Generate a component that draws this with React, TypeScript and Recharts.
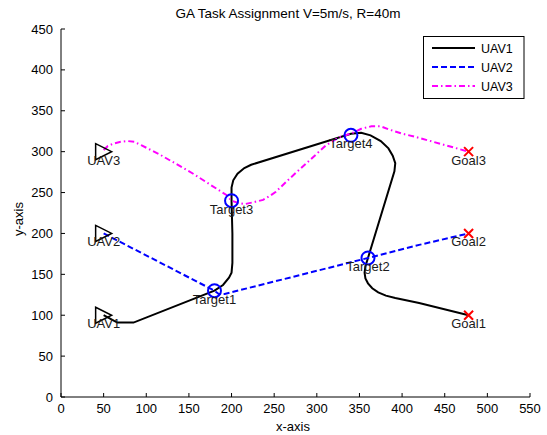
import React from "react";
import { ComposedChart, Line, Scatter, XAxis, YAxis } from "recharts";

// flight paths
const uav1X = [50, 57, 66, 85, 180, 190, 197, 200, 201, 201, 200, 200, 202, 207, 215, 223, 340, 352, 363, 375, 384, 389, 392, 391, 360, 357, 356, 357, 360, 365, 372, 381, 392, 420, 478];
const uav1Y = [100, 96, 91, 91, 130, 137, 146, 152, 164, 200, 240, 256, 265, 273, 280, 284, 322, 323, 320, 313, 304, 295, 286, 276, 170, 160, 152, 145, 139, 133, 128, 124, 121, 115, 100];

const uav2X = [50, 180, 185, 192, 360, 420, 478];
const uav2Y = [200, 130, 126, 126, 170, 186, 200];

const uav3X = [50, 55, 62, 70, 78, 86, 94, 115, 155, 194, 200, 209, 216, 225, 237, 245, 252, 268, 288, 311, 327, 340, 352, 364, 375, 385, 400, 416, 478];
const uav3Y = [302, 307, 310, 312, 313, 312, 308, 297, 273, 247, 240, 237, 236, 238, 241, 246, 251, 267, 286, 308, 318, 322, 328, 331, 331, 327, 322, 318, 300];

// markers
const startNames = ["UAV1", "UAV2", "UAV3"];
const startX = [50, 50, 50];
const startY = [100, 200, 300];

const targetNames = ["Target1", "Target2", "Target3", "Target4"];
const targetX = [180, 360, 200, 340];
const targetY = [130, 170, 240, 320];

const goalNames = ["Goal1", "Goal2", "Goal3"];
const goalX = [478, 478, 478];
const goalY = [100, 200, 300];

const xTicks = [0, 50, 100, 150, 200, 250, 300, 350, 400, 450, 500, 550];
const yTicks = [0, 50, 100, 150, 200, 250, 300, 350, 400, 450];

const FONT = "'Liberation Sans', Arial, Helvetica, sans-serif";

const toPoints = (xs: number[], ys: number[]) => xs.map((x, i) => ({ x, y: ys[i] }));
const toMarkers = (names: string[], xs: number[], ys: number[]) =>
  names.map((name, i) => ({ x: xs[i], y: ys[i], name }));

const uav1 = toPoints(uav1X, uav1Y);
const uav2 = toPoints(uav2X, uav2Y);
const uav3 = toPoints(uav3X, uav3Y);
const starts = toMarkers(startNames, startX, startY);
const targets = toMarkers(targetNames, targetX, targetY);
const goals = toMarkers(goalNames, goalX, goalY);

const MarkerLabel = ({ cx, cy, text }: { cx: number; cy: number; text: string }) => (
  <text x={cx} y={cy + 13} textAnchor="middle" fontSize={13} fontFamily={FONT} fill="#1a1a1a">
    {text}
  </text>
);

const StartShape = (props: any) => {
  const { cx, cy, payload } = props;
  return (
    <g>
      <path
        d={`M${cx - 8},${cy - 8} L${cx + 8},${cy} L${cx - 8},${cy + 8} Z`}
        fill="none"
        stroke="#000"
        strokeWidth={1.5}
      />
      <MarkerLabel cx={cx} cy={cy} text={payload.name} />
    </g>
  );
};

const TargetShape = (props: any) => {
  const { cx, cy, payload } = props;
  return (
    <g>
      <circle cx={cx} cy={cy} r={6.5} fill="none" stroke="#0000ff" strokeWidth={2} />
      <MarkerLabel cx={cx} cy={cy} text={payload.name} />
    </g>
  );
};

const GoalShape = (props: any) => {
  const { cx, cy, payload } = props;
  const s = 4.5;
  return (
    <g>
      <path
        d={`M${cx - s},${cy - s} L${cx + s},${cy + s} M${cx - s},${cy + s} L${cx + s},${cy - s}`}
        stroke="#ff0000"
        strokeWidth={2}
      />
      <MarkerLabel cx={cx} cy={cy} text={payload.name} />
    </g>
  );
};

const XTick = (props: any) => {
  const { x, y, payload } = props;
  return (
    <g>
      <line x1={x} x2={x} y1={y} y2={y - 4} stroke="#000" />
      <text x={x} y={y + 16} textAnchor="middle" fontSize={13} fontFamily={FONT} fill="#000">
        {payload.value}
      </text>
    </g>
  );
};

const YTick = (props: any) => {
  const { x, y, payload } = props;
  return (
    <g>
      <line x1={x} x2={x + 4} y1={y} y2={y} stroke="#000" />
      <text x={x - 8} y={y + 4.5} textAnchor="end" fontSize={13} fontFamily={FONT} fill="#000">
        {payload.value}
      </text>
    </g>
  );
};

const legendItems = [
  { name: "UAV1", color: "#000000", dash: undefined },
  { name: "UAV2", color: "#0000ff", dash: "6 3" },
  { name: "UAV3", color: "#ff00ff", dash: "6 3 1.5 3" },
];

export default function App() {
  return (
    <div style={{ position: "absolute", left: 0, top: 0, width: 547, height: 435, background: "#fff" }}>
      <ComposedChart width={547} height={435} margin={{ top: 29, right: 17, bottom: 0, left: 0 }}>
        <XAxis
          type="number"
          dataKey="x"
          domain={[0, 550]}
          ticks={xTicks}
          height={38}
          tickSize={0}
          tickMargin={0}
          tickLine={false}
          tick={<XTick />}
          axisLine={{ stroke: "#000" }}
          allowDataOverflow
        />
        <YAxis
          type="number"
          dataKey="y"
          domain={[0, 450]}
          ticks={yTicks}
          width={61}
          tickSize={0}
          tickMargin={0}
          tickLine={false}
          tick={<YTick />}
          axisLine={{ stroke: "#000" }}
          allowDataOverflow
        />
        <Line data={uav1} dataKey="y" type="linear" stroke="#000" strokeWidth={2} dot={false} isAnimationActive={false} />
        <Line data={uav2} dataKey="y" type="linear" stroke="#0000ff" strokeWidth={2} strokeDasharray="6 3" dot={false} isAnimationActive={false} />
        <Line data={uav3} dataKey="y" type="linear" stroke="#ff00ff" strokeWidth={2} strokeDasharray="6 3 1.5 3" dot={false} isAnimationActive={false} />
        <Scatter data={starts} dataKey="y" shape={StartShape} isAnimationActive={false} />
        <Scatter data={targets} dataKey="y" shape={TargetShape} isAnimationActive={false} />
        <Scatter data={goals} dataKey="y" shape={GoalShape} isAnimationActive={false} />
      </ComposedChart>
      <svg
        width={547}
        height={435}
        style={{ position: "absolute", left: 0, top: 0, pointerEvents: "none" }}
      >
        <text x={288} y={18} textAnchor="middle" fontSize={13.5} fontFamily={FONT} fill="#000">
          GA Task Assignment V=5m/s, R=40m
        </text>
        <text x={293} y={431} textAnchor="middle" fontSize={13} fontFamily={FONT} fill="#000">
          x-axis
        </text>
        <text
          x={23}
          y={219}
          textAnchor="middle"
          fontSize={13}
          fontFamily={FONT}
          fill="#000"
          transform="rotate(-90 23 219)"
        >
          y-axis
        </text>
        <rect x={423.5} y={36.5} width={100.5} height={62} fill="#fff" stroke="#000" />
        {legendItems.map((it, i) => (
          <g key={it.name}>
            <line
              x1={432}
              x2={475}
              y1={48 + i * 19}
              y2={48 + i * 19}
              stroke={it.color}
              strokeWidth={2}
              strokeDasharray={it.dash}
            />
            <text x={481} y={52.5 + i * 19} fontSize={12.5} fontFamily={FONT} fill="#000">
              {it.name}
            </text>
          </g>
        ))}
      </svg>
    </div>
  );
}
